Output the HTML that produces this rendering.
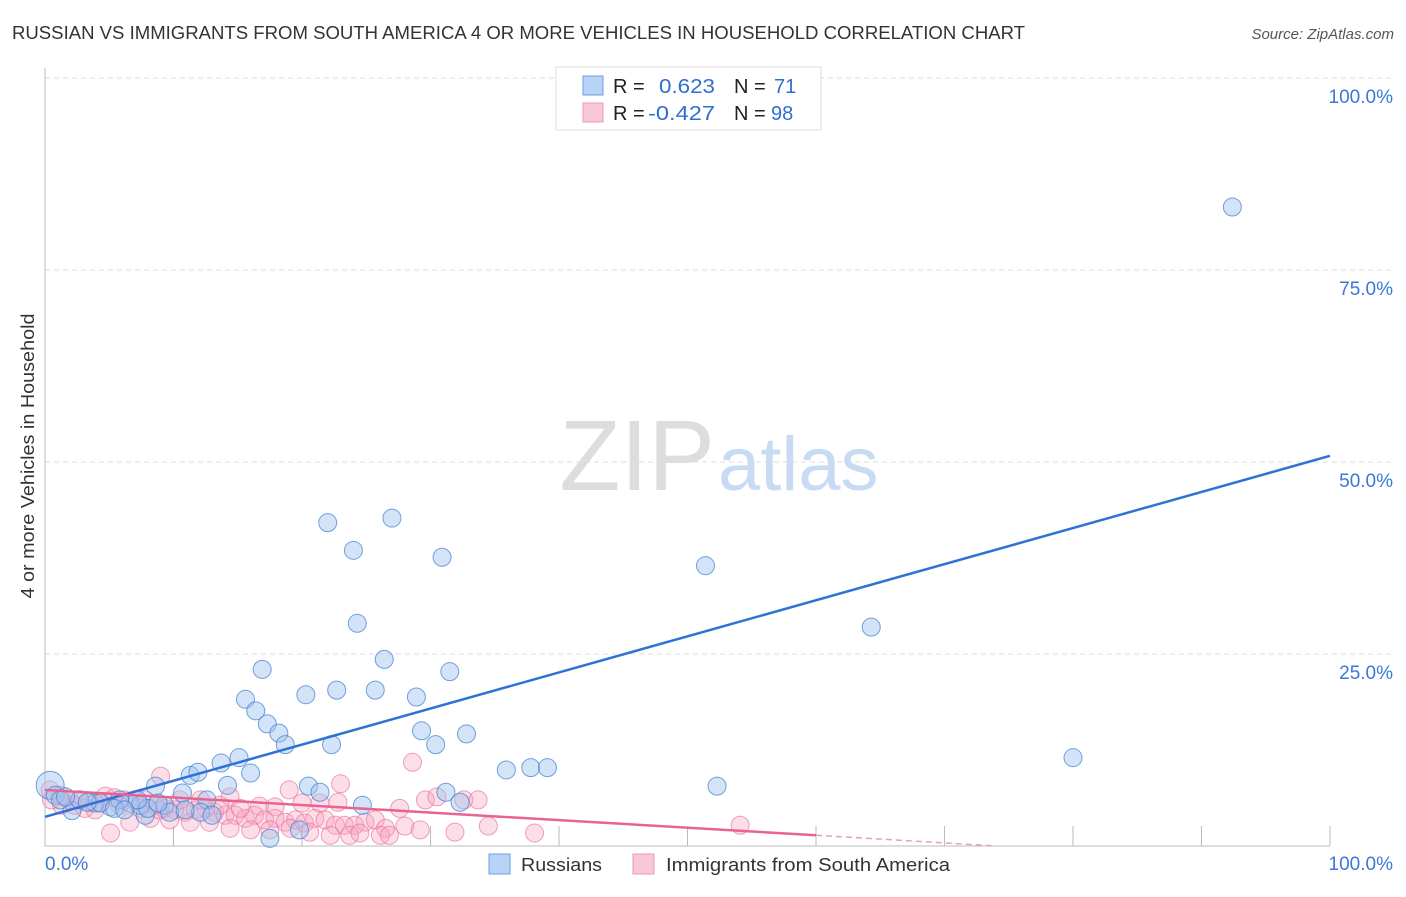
<!DOCTYPE html>
<html><head><meta charset="utf-8"><style>
body{margin:0;background:#fff;font-family:"Liberation Sans",sans-serif}
svg text{font-family:"Liberation Sans",sans-serif}
</style></head><body>
<svg id="chart" width="1406" height="892" xmlns="http://www.w3.org/2000/svg">
<text x="12" y="39" font-size="18" fill="#333" textLength="1013" lengthAdjust="spacingAndGlyphs">RUSSIAN VS IMMIGRANTS FROM SOUTH AMERICA 4 OR MORE VEHICLES IN HOUSEHOLD CORRELATION CHART</text>
<text x="1394" y="39" font-size="15" fill="#555" font-style="italic" text-anchor="end">Source: ZipAtlas.com</text>
<text x="34" y="456" font-size="18" fill="#333" text-anchor="middle" textLength="285" lengthAdjust="spacingAndGlyphs" transform="rotate(-90 34 456)">4 or more Vehicles in Household</text>
<g id="grid"></g>
<g id="axes"></g>
<text x="715" y="490" font-size="100" fill="#ddd" text-anchor="end" font-family="Liberation Serif">ZIP</text>
<text x="718" y="490" font-size="76" fill="#c9dbf3">atlas</text>
<g id="pts"></g>
<g id="lines"></g>
<g>
<rect x="556" y="67" width="265" height="63" fill="#fff" stroke="#ddd"/>
<rect x="583" y="76" width="20" height="19" fill="#b8d3f5" stroke="#6f9ee0"/>
<rect x="583" y="103" width="20" height="19" fill="#f9c8d7" stroke="#ee9ab4"/>
<text x="613" y="93" font-size="20" fill="#222">R =</text>
<text x="659" y="93" font-size="20" fill="#2f6fd1" textLength="56" lengthAdjust="spacingAndGlyphs">0.623</text>
<text x="734" y="93" font-size="20" fill="#222">N =</text>
<text x="774" y="93" font-size="20" fill="#2f6fd1">71</text>
<text x="613" y="120" font-size="20" fill="#222">R =</text>
<text x="648" y="120" font-size="20" fill="#2f6fd1" textLength="67" lengthAdjust="spacingAndGlyphs">-0.427</text>
<text x="734" y="120" font-size="20" fill="#222">N =</text>
<text x="771" y="120" font-size="20" fill="#2f6fd1">98</text>
</g>
<g>
<rect x="489" y="854" width="21" height="20" fill="#b8d3f5" stroke="#6f9ee0"/>
<text x="521" y="871" font-size="18" fill="#333" textLength="81" lengthAdjust="spacingAndGlyphs">Russians</text>
<rect x="633" y="854" width="21" height="20" fill="#f9c8d7" stroke="#ee9ab4"/>
<text x="666" y="871" font-size="18" fill="#333" textLength="284" lengthAdjust="spacingAndGlyphs">Immigrants from South America</text>
</g>
</svg>
<script>
const yTicks=[25,50,75,100];
const yTickLabels=["25.0%","50.0%","75.0%","100.0%"];
const xTickLabels=["0.0%","100.0%"];
const blueX=[92.4,22.0,27.0,24.0,30.9,51.4,24.3,64.3,26.4,16.9,31.5,22.7,25.7,20.3,28.9,15.6,16.4,17.3,18.2,29.3,32.8,18.7,30.4,22.3,80.0,15.1,13.7,35.9,37.8,39.1,16.0,11.3,11.9,52.3,14.2,8.6,20.5,31.2,10.7,21.4,12.6,6.6,24.7,32.3,9.3,2.1,7.8,5.1,3.9,5.8,0.4,0.8,1.2,2.7,4.3,7.4,9.7,12.1,13.0,17.5,19.8,3.3,1.6,5.4,8.0,10.9,7.2,8.8,6.2];
const blueY=[83.2,42.1,42.7,38.5,37.6,36.5,29.0,28.5,24.3,23.0,22.7,20.3,20.3,19.7,19.4,19.1,17.6,15.9,14.7,15.0,14.6,13.2,13.2,13.2,11.5,11.5,10.8,9.9,10.2,10.2,9.5,9.2,9.6,7.8,7.9,7.8,7.8,7.0,6.9,7.0,6.0,5.6,5.3,5.7,5.3,4.6,4.0,5.1,5.6,6.0,7.9,6.6,6.0,6.0,5.6,5.3,4.4,4.4,4.0,1.0,2.1,5.7,6.4,4.9,4.9,4.7,6.0,5.6,4.7];
const pinkX=[28.6,9.0,23.0,19.0,14.4,32.6,33.7,29.6,30.5,16.7,17.9,20.0,21.4,22.8,0.4,1.2,1.9,2.7,3.5,4.3,4.7,5.4,6.2,7.0,7.8,8.6,9.3,10.1,10.9,11.7,12.5,13.2,14.0,14.8,15.6,16.3,17.1,17.9,18.7,19.5,20.2,21.0,21.8,22.6,23.3,24.1,24.9,25.7,26.5,27.6,28.0,5.1,6.6,8.2,9.7,11.3,12.8,14.4,16.0,17.5,19.1,20.6,22.2,23.7,24.5,26.1,26.8,29.2,31.9,34.5,38.1,54.1,12.1,13.6,15.2,10.5,5.8,7.4,8.9,2.3,3.1,3.9,1.3,0.5];
const pinkY=[10.9,9.1,8.1,7.3,6.4,6.0,6.0,6.0,6.4,5.2,5.1,5.6,5.6,5.7,7.3,6.6,6.0,6.0,5.7,5.6,6.5,6.3,6.0,6.0,6.0,5.3,4.9,4.7,4.4,4.7,4.9,4.4,4.0,4.0,3.6,4.0,3.4,3.6,3.1,3.4,3.0,3.6,3.4,2.7,2.7,2.7,3.1,3.4,2.3,4.9,2.6,1.7,3.1,3.6,3.4,3.1,3.1,2.3,2.1,2.1,2.3,1.8,1.4,1.4,1.7,1.4,1.4,2.1,1.8,2.6,1.7,2.7,6.0,5.3,4.9,6.0,5.3,4.9,4.7,5.3,4.9,4.7,5.3,6.0];
const blueTrend=[[0,3.8],[100,50.8]];
const pinkTrend=[[0,7.3],[60,1.4]];
const pinkDash=[[60,1.4],[74,0]];
const NS="http://www.w3.org/2000/svg";
const X=v=>45+v*12.85, Y=v=>846-v*7.68;
function mk(t,a,p){const e=document.createElementNS(NS,t);for(const k in a)e.setAttribute(k,a[k]);p.appendChild(e);return e;}
const grid=document.getElementById('grid'),axes=document.getElementById('axes');
yTicks.forEach((t,i)=>{
 const l=mk('line',{x1:45,x2:1395,y1:Y(t),y2:Y(t),stroke:'#ddd','stroke-dasharray':'5,4'},grid);
 
 
 const tx=mk('text',{x:1393,y:Y(t)+25,'font-size':19,fill:'#3b78d8','text-anchor':'end'},axes);
 tx.textContent=yTickLabels[i];
 
 
});
const ax=mk('path',{d:`M45 68 V846 H1330`,stroke:'#bbb',fill:'none'},axes);


for(let i=1;i<=10;i++){
 const t=mk('line',{x1:X(i*10),x2:X(i*10),y1:826,y2:846,stroke:'#bbb'},axes);
 
 
}
[[45,'start'],[1393,'end']].forEach((p,i)=>{
 const tx=mk('text',{x:p[0],y:870,'font-size':19,fill:'#3b78d8','text-anchor':p[1]},axes);
 tx.textContent=xTickLabels[i];
 
 
});
const pts=document.getElementById('pts');
pinkX.forEach((x,i)=>{
 const c=mk('circle',{cx:X(x),cy:Y(pinkY[i]),r:9,fill:'rgba(245,160,190,0.35)',stroke:'rgba(232,120,160,0.7)'},pts);
 
 
});
blueX.forEach((x,i)=>{
 const c=mk('circle',{cx:X(x),cy:Y(blueY[i]),r:i==50?14:9,fill:'rgba(160,196,240,0.45)',stroke:'rgba(70,130,210,0.75)'},pts);
 
 
});
const lines=document.getElementById('lines');
const b=mk('line',{x1:X(blueTrend[0][0]),y1:Y(blueTrend[0][1]),x2:X(blueTrend[1][0]),y2:Y(blueTrend[1][1]),stroke:'#2f72d6','stroke-width':2.5},lines);


const p=mk('line',{x1:X(pinkTrend[0][0]),y1:Y(pinkTrend[0][1]),x2:X(pinkTrend[1][0]),y2:Y(pinkTrend[1][1]),stroke:'#e8638f','stroke-width':2.5},lines);


const pd=mk('line',{x1:X(pinkDash[0][0]),y1:Y(pinkDash[0][1]),x2:X(pinkDash[1][0]),y2:Y(pinkDash[1][1]),stroke:'#e8a0b8','stroke-width':1.5,'stroke-dasharray':'6,4'},lines);


</script>
</body></html>
